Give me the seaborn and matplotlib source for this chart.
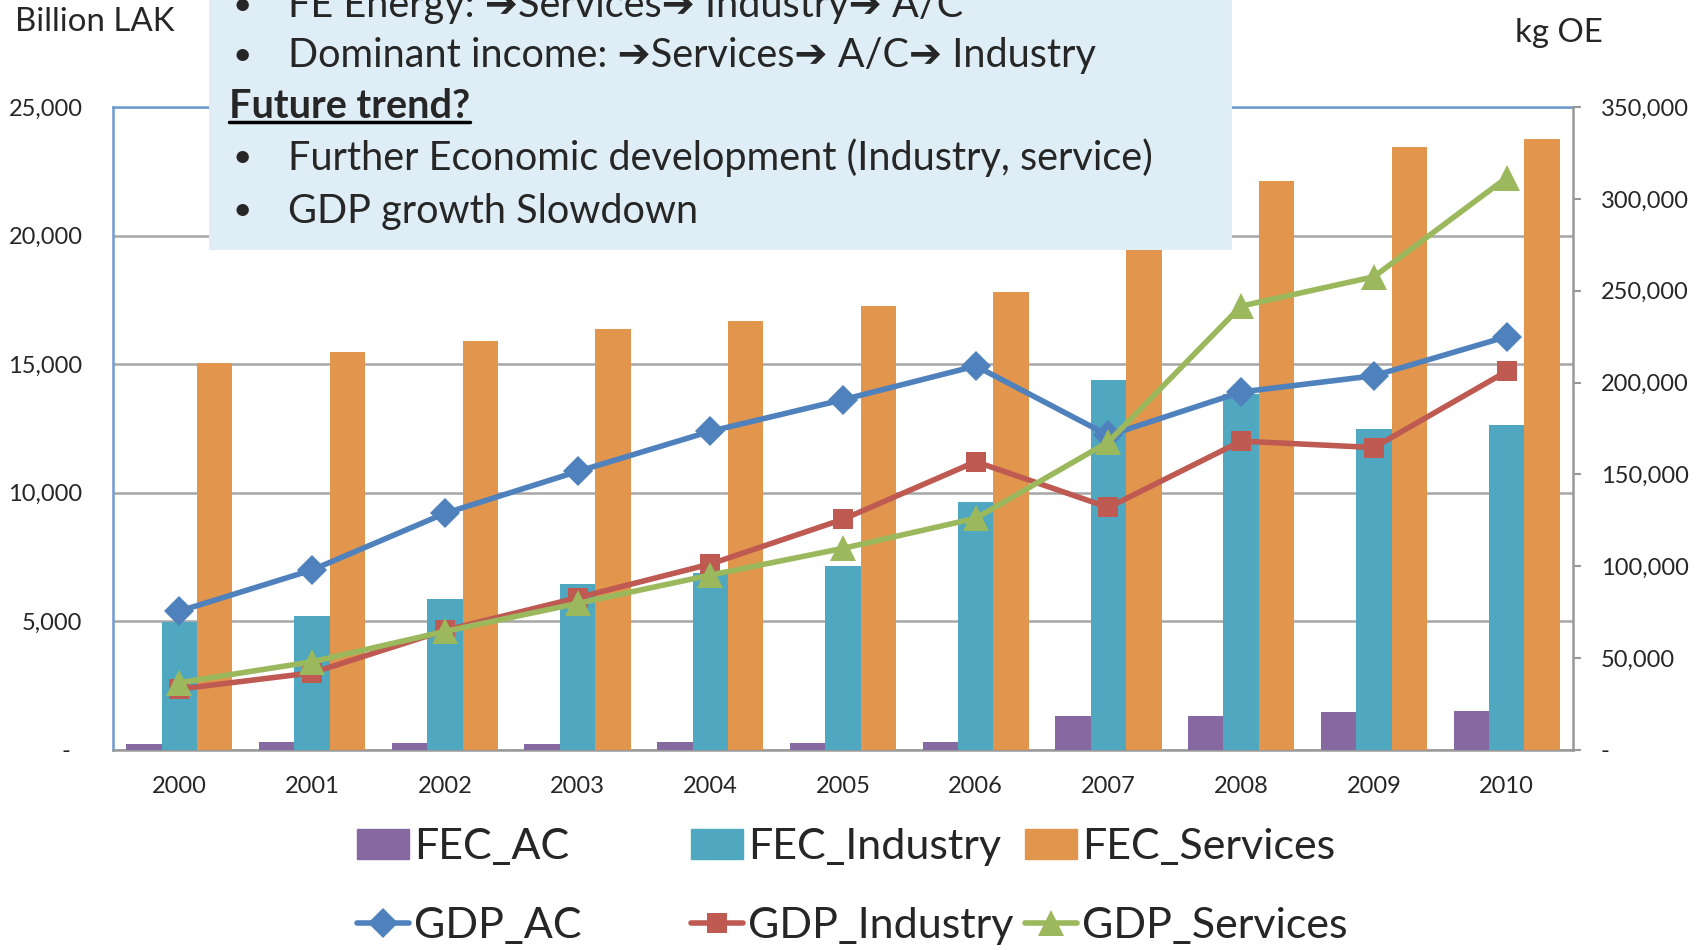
import numpy as np
import pandas as pd
import seaborn as sns
import matplotlib.pyplot as plt
from matplotlib.patches import Rectangle, Patch
from matplotlib.lines import Line2D
from matplotlib.ticker import FuncFormatter, MultipleLocator

# datos
years = [str(y) for y in range(2000, 2011)]

# consumo final de energia (kg OE, eje derecho)
fec_ac = [3000, 4100, 3600, 3000, 4100, 3600, 4100, 18400, 18400, 20700, 21300]
fec_industry = [69900, 72800, 82300, 90300, 96500, 100000, 135000, 201400, 193700, 174700, 177100]
fec_services = [210800, 216800, 222700, 229200, 233300, 241600, 249300, 280000, 309700, 328100, 332800]

# PIB por sector (Billion LAK, eje izquierdo)
gdp_ac = [5400, 7000, 9200, 10830, 12390, 13620, 14930, 12230, 13920, 14550, 16070]
gdp_industry = [2370, 3000, 4650, 5920, 7230, 8970, 11210, 9430, 12010, 11760, 14720]
gdp_services = [2620, 3430, 4610, 5700, 6800, 7840, 9010, 11980, 17260, 18400, 22250]

bar_names = ["FEC_AC", "FEC_Industry", "FEC_Services"]
line_names = ["GDP_AC", "GDP_Industry", "GDP_Services"]
bar_colors = ["#8669A0", "#4FA8C0", "#E2954D"]
line_colors = ["#4F81BD", "#BE5A52", "#9BB85C"]
line_markers = ["D", "s", "^"]
marker_sizes = [15, 15, 19]

box_lines = ["FE Energy: \u2794Services\u2794 Industry\u2794 A/C",
             "Dominant income: \u2794Services\u2794 A/C\u2794 Industry",
             "Further Economic development (Industry, service)",
             "GDP growth Slowdown"]

sns.set_theme(style="white")
plt.rcParams['font.family'] = ['Lato', 'DejaVu Sans']

W, H = 1707, 950
fig = plt.figure(figsize=(W/100, H/100), dpi=100)
ax = fig.add_axes([113/W, 1-750/H, 1460/W, 643/H])
ax2 = ax.twinx()   # barras
ax3 = ax.twinx()   # lineas

n = len(years)
bars = pd.DataFrame({"Year": years*3,
                     "FEC": fec_ac + fec_industry + fec_services,
                     "Series": np.repeat(bar_names, n)})
sns.barplot(data=bars, x="Year", y="FEC", hue="Series", palette=bar_colors,
            width=0.8, saturation=1, legend=False, ax=ax2, linewidth=0)

lines = pd.DataFrame({"pos": np.tile(np.arange(n), 3),
                      "GDP": gdp_ac + gdp_industry + gdp_services,
                      "Series": np.repeat(line_names, n)})
sns.lineplot(data=lines, x="pos", y="GDP", hue="Series", style="Series",
             palette=line_colors, markers=dict(zip(line_names, line_markers)),
             dashes=False, linewidth=4, markersize=15, markeredgewidth=0,
             legend=False, ax=ax3)
for ln, ms in zip(ax3.lines, marker_sizes):
    ln.set_markersize(ms)

# ejes
ax.set_xlim(-0.5, n-0.5)
ax.set_ylim(0, 25000)
ax2.set_ylim(0, 350000)
ax3.set_ylim(0, 25000)
ax.set_xticks(range(n), years)
ax.yaxis.set_major_locator(MultipleLocator(5000))
ax2.yaxis.set_major_locator(MultipleLocator(50000))
ax.yaxis.set_major_formatter(FuncFormatter(lambda v, p: "-  " if v == 0 else f"{v:,.0f}"))
ax2.yaxis.set_major_formatter(FuncFormatter(lambda v, p: "-" if v == 0 else f"{v:,.0f}"))
ax.grid(axis="y", color="#A6A6A6", linewidth=1.8)
ax.tick_params(axis="y", length=0, pad=22, labelsize=17)
ax.tick_params(axis="x", length=0, pad=19, labelsize=17)
ax2.tick_params(axis="y", length=6, width=1.5, color="#999999", pad=14, labelsize=17, direction="out")
ax3.set_yticks([])
for a in (ax, ax2, ax3):
    a.set_xlabel("")
    a.set_ylabel("")
    for s in a.spines.values():
        s.set_visible(False)
ax.spines["left"].set_visible(True)
ax.spines["left"].set_color("#6F9BD1")
ax.spines["top"].set_visible(True)
ax.spines["top"].set_color("#6F9BD1")
ax.spines["bottom"].set_visible(True)
ax.spines["bottom"].set_color("#999999")
ax2.spines["right"].set_visible(True)
ax2.spines["right"].set_color("#999999")
for s in ax.spines.values():
    s.set_linewidth(1.8)
ax2.spines["right"].set_linewidth(1.8)

fig.text(15/W, 1-22/H, "Billion LAK", fontsize=23.8, va="center", ha="left")
fig.text(1515/W, 1-33/H, "kg OE", fontsize=23.8, va="center", ha="left")

# leyenda: 3 columnas de igual ancho
col_x = [357, 691, 1025]
for i in range(3):
    hnd = [Patch(color=bar_colors[i]),
           Line2D([], [], color=line_colors[i], marker=line_markers[i], lw=4,
                  markersize=marker_sizes[i], markeredgewidth=0)]
    fig.legend(hnd, [bar_names[i], line_names[i]], loc="upper left",
               bbox_to_anchor=(col_x[i]/W, 1-828/H), frameon=False, fontsize=31,
               handlelength=1.2, handletextpad=0.12, labelspacing=0.95,
               borderpad=0, borderaxespad=0)

# cuadro de texto
fig.patches.append(Rectangle((209/W, 1-250/H), 1023/W, 250/H, transform=fig.transFigure,
                             facecolor="#DFEEF6", edgecolor="none", zorder=10))
ys = [6, 56, 158, 211]
for y, txt in zip(ys, box_lines):
    fig.text(233/W, 1-y/H, "\u2022", fontsize=24, va="center", zorder=11)
    fig.text(288/W, 1-y/H, txt, fontsize=28.5, va="center", zorder=11)
ft = fig.text(229/W, 1-107/H, "Future trend?", fontsize=28.5, fontweight="bold",
              va="center", zorder=11)
fig.canvas.draw()
bb = ft.get_window_extent()
fig.add_artist(Line2D([bb.x0/W, bb.x1/W], [(bb.y0+4)/H, (bb.y0+4)/H],
                      transform=fig.transFigure, color="black", lw=2.5, zorder=11))

fig.savefig("out.png", dpi=100)
